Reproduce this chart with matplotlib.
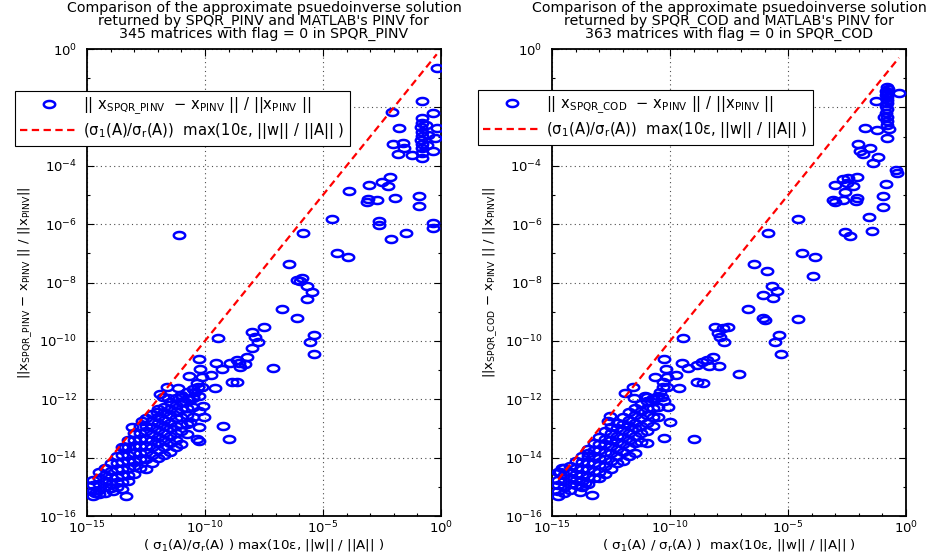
import numpy as np
import matplotlib
matplotlib.use("Agg")
import matplotlib.pyplot as plt
from matplotlib.path import Path
from matplotlib.ticker import FixedLocator, LogFormatterSciNotation, NullFormatter

plt.rcParams['font.family'] = ['DejaVu Sans']
plt.rcParams['mathtext.fontset'] = 'dejavusans'

# ---------------- data (log10 of the plotted values) ----------------
# SPQR_PINV panel: scattered points (log10 x, log10 y)
pinv_scattered = [
    (-0.18, -0.66), (-0.82, -1.78), (-2.09, -2.15), (-0.33, -2.18), (-1.77, -2.72),
    (-0.82, -2.37), (-0.80, -2.55), (-0.84, -2.68), (-0.82, -2.83), (-0.79, -2.98),
    (-0.83, -3.12), (-0.81, -3.25), (-0.82, -3.40), (-0.80, -3.57), (-0.82, -3.74),
    (-0.18, -2.72), (-0.25, -3.06), (-0.33, -3.48),
    (-2.05, -3.25), (-1.60, -3.21), (-1.57, -3.40), (-1.81, -3.60), (-1.22, -3.63),
    (-0.55, -2.95), (-0.60, -3.30), (-0.62, -2.60),
    (-2.16, -4.40), (-2.51, -4.55), (-2.23, -4.68), (-3.04, -4.66), (-3.90, -4.85),
    (-3.08, -5.15), (-3.13, -5.24), (-2.73, -5.17), (-1.95, -5.09), (-0.92, -5.02), (-0.93, -5.38),
    (-4.62, -5.81), (-2.61, -5.89), (-2.61, -6.04), (-0.36, -5.95), (-0.36, -6.12),
    (-5.86, -6.31), (-1.50, -6.29), (-2.13, -6.51),
    (-11.09, -6.37),
    (-4.42, -7.00), (-3.93, -7.14), (-6.44, -7.38),
    (-6.11, -7.91), (-5.90, -7.86), (-5.98, -7.95),
    (-5.69, -8.12), (-5.48, -8.34), (-5.67, -8.55),
    (-6.72, -8.91), (-6.10, -9.23),
    (-7.51, -9.52), (-8.00, -9.71), (-7.88, -9.86), (-7.74, -10.03), (-8.00, -10.25), (-8.21, -10.54),
    (-9.46, -9.89),
    (-5.38, -9.79), (-5.56, -10.03), (-5.37, -10.45),
    (-7.11, -10.94),
    (-8.32, -10.80), (-8.52, -10.88), (-8.94, -10.77), (-9.27, -10.96), (-9.53, -10.77), (-9.76, -11.17),
    (-8.57, -10.77), (-8.66, -10.65),
    (-8.87, -11.42), (-8.63, -11.42),
    (-10.25, -10.63), (-10.21, -10.97), (-10.14, -11.23), (-10.67, -11.22),
    (-10.35, -11.43), (-10.28, -11.57), (-10.42, -11.74), (-10.50, -11.91), (-10.12, -11.57),
    (-11.13, -11.62), (-10.99, -11.91), (-11.62, -11.57), (-11.91, -11.83),
    (-9.58, -11.62), (-11.56, -11.97), (-10.92, -12.08), (-10.10, -12.23), (-10.04, -12.62),
    (-9.25, -12.90), (-8.97, -13.37), (-10.33, -13.37), (-10.24, -13.42), (-10.64, -12.77),
    (-11.77, -11.91),
    (-13.11, -12.94), (-12.69, -12.73), (-12.05, -12.43), (-13.39, -13.62),
    (-13.89, -15.14), (-13.35, -15.30), (-13.53, -15.08), (-14.66, -15.22),
]

# SPQR_PINV panel: dense cluster, log10 x -> list of log10 y
pinv_cluster = {
    -14.75: [-14.75, -14.95, -15.15, -15.30],
    -14.50: [-14.50, -14.70, -14.90, -15.10, -15.25],
    -14.25: [-14.35, -14.60, -14.80, -15.00, -15.20],
    -14.00: [-14.20, -14.45, -14.65, -14.90, -15.05],
    -13.75: [-13.95, -14.20, -14.40, -14.65, -14.85, -15.00],
    -13.50: [-13.65, -13.90, -14.15, -14.40, -14.60, -14.85],
    -13.25: [-13.40, -13.65, -13.90, -14.10, -14.35, -14.60, -14.80],
    -13.00: [-13.15, -13.40, -13.60, -13.85, -14.10, -14.30, -14.55],
    -12.75: [-12.90, -13.15, -13.35, -13.60, -13.85, -14.05, -14.35],
    -12.50: [-12.65, -12.90, -13.10, -13.35, -13.60, -13.80, -14.05, -14.40],
    -12.25: [-12.50, -12.75, -12.95, -13.20, -13.40, -13.65, -13.90, -14.20],
    -12.00: [-12.35, -12.60, -12.80, -13.05, -13.30, -13.50, -13.75, -14.00],
    -11.75: [-12.25, -12.45, -12.70, -12.90, -13.15, -13.40, -13.65, -13.90],
    -11.50: [-12.10, -12.35, -12.55, -12.80, -13.00, -13.25, -13.50, -13.80],
    -11.25: [-11.95, -12.20, -12.45, -12.65, -12.90, -13.15, -13.40, -13.65],
    -11.00: [-11.85, -12.10, -12.35, -12.60, -12.85, -13.10, -13.55],
    -10.75: [-11.75, -12.00, -12.30, -12.55, -12.85, -13.20],
    -10.50: [-11.65, -11.95, -12.25, -12.60],
    -10.25: [-11.90, -12.40, -12.95],
}

# SPQR_COD panel: scattered points (log10 x, log10 y)
cod_scattered = [
    (-0.82, -1.29), (-0.78, -1.36), (-0.84, -1.43), (-0.80, -1.50), (-0.83, -1.57),
    (-0.79, -1.65), (-0.82, -1.75), (-0.80, -1.85), (-0.83, -1.95), (-0.81, -2.05),
    (-0.84, -2.18), (-0.80, -2.32), (-0.82, -2.45), (-0.79, -2.60), (-0.81, -3.06),
    (-0.30, -1.52), (-1.27, -1.77), (-0.93, -2.34), (-0.71, -2.75), (-1.74, -2.72), (-1.24, -2.77),
    (-2.02, -3.25), (-1.53, -3.38), (-1.95, -3.48), (-1.81, -3.60), (-1.17, -3.69), (-1.39, -3.92),
    (-0.44, -4.15), (-0.39, -4.24), (-0.85, -4.64),
    (-3.01, -4.66), (-2.68, -4.46), (-2.45, -4.41), (-2.09, -4.40), (-2.51, -4.60), (-2.24, -4.69), (-2.59, -4.89),
    (-0.96, -5.02), (-3.08, -5.17), (-3.01, -5.23), (-2.66, -5.17), (-2.09, -5.11), (-2.12, -5.21),
    (-0.99, -5.40), (-1.56, -5.74), (-4.59, -5.82), (-5.84, -6.31), (-2.59, -6.26), (-2.38, -6.41), (-1.45, -6.23),
    (-4.42, -7.00), (-3.86, -7.14), (-3.93, -7.78), (-6.45, -7.38), (-5.91, -7.61),
    (-5.67, -8.11), (-5.48, -8.29), (-5.63, -8.54), (-6.08, -8.43), (-6.71, -8.91),
    (-6.08, -9.23), (-5.98, -9.28), (-4.59, -9.26),
    (-8.10, -9.52), (-7.75, -9.57), (-7.54, -9.51), (-7.99, -9.72), (-7.89, -9.86), (-7.72, -10.03), (-9.44, -9.89),
    (-5.37, -9.79), (-5.56, -10.03), (-5.31, -10.45), (-7.07, -11.14),
    (-8.17, -10.54), (-8.45, -10.65), (-8.66, -10.73), (-8.88, -10.83), (-9.23, -10.94),
    (-9.51, -10.77), (-8.34, -10.85), (-7.93, -10.86),
    (-8.88, -11.42), (-8.60, -11.43),
    (-10.25, -10.63), (-10.18, -10.97), (-10.15, -11.23), (-9.75, -11.17), (-10.64, -11.23), (-9.61, -11.62),
    (-10.32, -11.40), (-10.29, -11.57), (-10.43, -11.74), (-10.15, -11.57), (-10.36, -11.91),
    (-11.56, -11.57), (-11.92, -11.80), (-11.00, -11.91), (-10.72, -11.97),
    (-11.52, -11.97), (-11.07, -11.89), (-10.11, -12.27), (-10.01, -12.77), (-10.25, -13.34), (-8.98, -13.37),
    (-12.65, -12.73), (-12.55, -12.57), (-13.47, -13.85), (-14.67, -14.48), (-14.60, -14.36),
    (-13.83, -15.19), (-13.33, -15.28), (-13.61, -14.88),
]

# SPQR_COD panel: dense cluster, log10 x -> list of log10 y
cod_cluster = {
    -14.75: [-14.50, -14.75, -14.95, -15.15, -15.30],
    -14.50: [-14.35, -14.60, -14.80, -15.00, -15.20],
    -14.25: [-14.30, -14.50, -14.70, -14.90, -15.10],
    -14.00: [-14.10, -14.35, -14.55, -14.75, -14.95],
    -13.75: [-13.95, -14.15, -14.40, -14.60, -14.80, -15.00],
    -13.50: [-13.70, -13.95, -14.20, -14.40, -14.65, -14.90],
    -13.25: [-13.50, -13.75, -13.95, -14.20, -14.45, -14.70],
    -13.00: [-13.30, -13.55, -13.75, -14.00, -14.25, -14.50, -14.70],
    -12.75: [-13.10, -13.35, -13.55, -13.80, -14.05, -14.30, -14.55],
    -12.50: [-12.95, -13.15, -13.40, -13.60, -13.85, -14.10, -14.40],
    -12.25: [-12.80, -13.00, -13.25, -13.45, -13.70, -13.95, -14.20],
    -12.00: [-12.60, -12.85, -13.05, -13.30, -13.55, -13.80, -14.10],
    -11.75: [-12.45, -12.70, -12.90, -13.15, -13.40, -13.65, -13.95],
    -11.50: [-12.30, -12.55, -12.80, -13.00, -13.25, -13.50, -13.85],
    -11.25: [-12.15, -12.40, -12.65, -12.90, -13.15, -13.45],
    -11.00: [-12.05, -12.30, -12.55, -12.80, -13.10, -13.50],
    -10.75: [-12.00, -12.30, -12.60, -12.90],
    -10.50: [-11.90, -12.25, -12.60],
    -10.25: [-12.05],
}

titles = [
    "Comparison of the approximate psuedoinverse solution\nreturned by SPQR_PINV and MATLAB's PINV for\n345 matrices with flag = 0 in SPQR_PINV",
    "Comparison of the approximate psuedoinverse solution\nreturned by SPQR_COD and MATLAB's PINV for\n363 matrices with flag = 0 in SPQR_COD",
]
xlabels = [
    "( σ$_\\mathregular{1}$(A)/σ$_\\mathregular{r}$(A) ) max(10ε, ||w|| / ||A|| )",
    "( σ$_\\mathregular{1}$(A) / σ$_\\mathregular{r}$(A) )  max(10ε, ||w|| / ||A|| )",
]
ylabels = [
    "||x$_\\mathregular{SPQR\\_PINV}$ − x$_\\mathregular{PINV}$ || / ||x$_\\mathregular{PINV}$||",
    "||x$_\\mathregular{SPQR\\_COD}$ − x$_\\mathregular{PINV}$ || / ||x$_\\mathregular{PINV}$||",
]
legend_points = [
    "|| x$_\\mathregular{SPQR\\_PINV}$  − x$_\\mathregular{PINV}$ || / ||x$_\\mathregular{PINV}$ ||",
    "|| x$_\\mathregular{SPQR\\_COD}$  − x$_\\mathregular{PINV}$ || / ||x$_\\mathregular{PINV}$ ||",
]
legend_line = "(σ$_\\mathregular{1}$(A)/σ$_\\mathregular{r}$(A))  max(10ε, ||w|| / ||A|| )"

x_major = [1e-15, 1e-10, 1e-5, 1e0]
x_minor = [10.0 ** k for k in range(-15, 1)]
y_major = [10.0 ** k for k in range(-16, 1, 2)]
y_minor = [10.0 ** k for k in range(-15, 0, 2)]


def expand(scattered, cluster):
    lx = [p[0] for p in scattered]
    ly = [p[1] for p in scattered]
    for cx, ys in cluster.items():
        for cy in ys:
            lx.append(cx)
            ly.append(cy)
    return 10.0 ** np.array(lx), 10.0 ** np.array(ly)


# ellipse marker (circles look stretched horizontally in the original)
t = np.linspace(0, 2 * np.pi, 49)
ell = Path(np.column_stack([np.cos(t), 0.62 * np.sin(t)]), closed=True)

W, H = 933, 554
fig = plt.figure(figsize=(W / 100, H / 100), dpi=100)
axes_px = [(87, 441), (552.3, 906)]
legend_px = [(15, 91), (478, 90)]
datasets = [expand(pinv_scattered, pinv_cluster), expand(cod_scattered, cod_cluster)]

for i in range(2):
    l, r = axes_px[i]
    ax = fig.add_axes([l / W, 1 - 516 / H, (r - l) / W, (516 - 49) / H])
    x, y = datasets[i]
    pts, = ax.plot(x, y, linestyle='none', marker=ell, markersize=8.2,
                   markerfacecolor='none', markeredgecolor=(0, 0, 1), markeredgewidth=1.8,
                   label=legend_points[i], zorder=3)
    lx = np.array([x.min(), x.max()])
    ln, = ax.plot(lx, lx, color=(1, 0, 0), linewidth=1.6, linestyle=(0, (3.3, 2.0)),
                  label=legend_line, zorder=4)
    ax.set_xscale('log')
    ax.set_yscale('log')
    ax.set_xlim(1e-15, 1e0)
    ax.set_ylim(1e-16, 1e0)
    ax.xaxis.set_major_locator(FixedLocator(x_major))
    ax.xaxis.set_minor_locator(FixedLocator(x_minor))
    ax.yaxis.set_major_locator(FixedLocator(y_major))
    ax.yaxis.set_minor_locator(FixedLocator(y_minor))
    ax.xaxis.set_major_formatter(LogFormatterSciNotation())
    ax.yaxis.set_major_formatter(LogFormatterSciNotation())
    ax.xaxis.set_minor_formatter(NullFormatter())
    ax.yaxis.set_minor_formatter(NullFormatter())
    ax.tick_params(which='both', direction='in', top=True, right=True, labelsize=9.5, width=0.8)
    ax.tick_params(which='major', length=5)
    ax.tick_params(axis='y', which='major', pad=7)
    ax.tick_params(axis='x', which='major', pad=3)
    ax.tick_params(which='minor', length=2.5)
    ax.grid(True, which='major', linestyle=(0, (1, 3)), color='0.3', linewidth=0.8)
    for s in ax.spines.values():
        s.set_linewidth(1.3)
    ax.set_title(titles[i], fontsize=10.2, linespacing=0.88, pad=8)
    ax.set_xlabel(xlabels[i], fontsize=9.6)
    ax.xaxis.set_label_coords(0.5, -(537 - 516) / 467)
    ax.set_ylabel(ylabels[i], fontsize=9.5, labelpad=4)
    lg = ax.legend(handles=[pts, ln], loc='upper left',
                   bbox_to_anchor=(legend_px[i][0] / W, 1 - legend_px[i][1] / H),
                   bbox_transform=fig.transFigure, borderaxespad=0,
                   fontsize=10.6, fancybox=False, framealpha=1, edgecolor='black',
                   handlelength=3.9, handletextpad=0.4, labelspacing=0.25, borderpad=0.35)
    lg.get_frame().set_linewidth(0.8)
    lg.set_zorder(10)

fig.savefig("out.png", dpi=100)
